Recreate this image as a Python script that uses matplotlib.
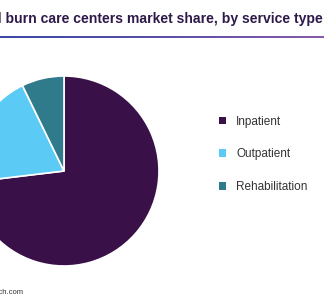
import matplotlib
matplotlib.use("Agg")
import matplotlib.pyplot as plt
import numpy as np
from matplotlib.patches import Patch
from matplotlib.colors import LinearSegmentedColormap

categories = ["Inpatient", "Outpatient", "Rehabilitation"]
shares = [73.1, 19.7, 7.2]
colors = ["#391148", "#5BCAF4", "#2F7A8B"]
title = "Global burn care centers market share, by service type"
source = "Source: www.grandviewresearch.com"

fig = plt.figure(figsize=(3.24, 3.0), dpi=100)
ax = fig.add_axes([0, 0, 1, 1])
ax.pie(shares, colors=colors, startangle=90, counterclock=False,
       center=(64, 129), radius=95,
       wedgeprops=dict(edgecolor="white", linewidth=1.2))
ax.set_xlim(0, 324)
ax.set_ylim(0, 300)
ax.set_aspect("equal")
ax.axis("off")

# title
fig.text(323 / 324, 1 - 19 / 300, title, ha="right", va="center",
         fontsize=10.05, fontweight="bold", color="#2E1A4A", family="Liberation Sans")

# gradient rule
lax = fig.add_axes([0, 1 - 38 / 300, 1, 2.5 / 300])
grad = np.linspace(0, 1, 256).reshape(1, -1)
cmap = LinearSegmentedColormap.from_list("g", ["#3B4BA6", "#5A4FA8", "#8A5BAA"])
lax.imshow(grad, aspect="auto", cmap=cmap)
lax.axis("off")

# legend
handles = [Patch(facecolor=c, edgecolor="none") for c in colors]
leg = fig.legend(handles, categories, loc="upper left",
                 bbox_to_anchor=(208 / 324, 1 - 105 / 300),
                 frameon=False, handlelength=0.6, handleheight=0.6,
                 handletextpad=0.9, labelspacing=1.75,
                 prop=dict(family="Liberation Sans", size=8.5))
for t in leg.get_texts():
    t.set_color("#333333")

fig.text(23 / 324, 1 - 293 / 300, source, ha="right", va="center",
         fontsize=5.5, color="#333333", family="Liberation Sans")

fig.savefig("out.png", dpi=100)
